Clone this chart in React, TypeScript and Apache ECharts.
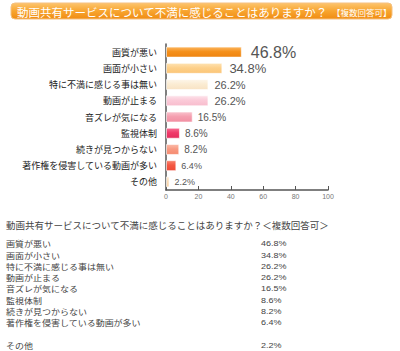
import React, { useEffect, useRef } from "react";
import * as echarts from "echarts";

const TITLE_MAIN = "動画共有サービスについて不満に感じることはありますか？";
const TITLE_SUB = "【複数回答可】";
const TABLE_TITLE = "動画共有サービスについて不満に感じることはありますか？＜複数回答可＞";

const categories = [
  "画質が悪い",
  "画面が小さい",
  "特に不満に感じる事は無い",
  "動画が止まる",
  "音ズレが気になる",
  "監視体制",
  "続きが見つからない",
  "著作権を侵害している動画が多い",
  "その他",
];
const values = [46.8, 34.8, 26.2, 26.2, 16.5, 8.6, 8.2, 6.4, 2.2];
const xTicks = [0, 20, 40, 60, 80, 100];

// styles
const barColors = [
  ["#fbb55e", "#f5901a", "#ee8410"],
  ["#fee2b2", "#fdd08a", "#fbc577"],
  ["#fdf6ea", "#fbecd3", "#f8e3c4"],
  ["#fde3ea", "#fbcad8", "#f8bccd"],
  ["#f9c2cc", "#f59fb0", "#f18fa2"],
  ["#f66d92", "#f03a6a", "#e52c5c"],
  ["#fbbcaa", "#f89a82", "#f58a70"],
  ["#f8846f", "#f45842", "#ee4a36"],
  ["#fde9d2", "#fbdbb4", "#f8d1a4"],
];
const labelSizes = [16, 13, 11, 11, 10, 10, 10, 9, 9];
const labelOffsets = [9, 7, 6, 6, 5, 5, 5, 5, 5];

const ROW_H = 11.3;
const SQUASH = 0.85;

export default function App() {
  const ref = useRef<HTMLDivElement>(null);
  useEffect(() => {
    document.body.style.margin = "0";
    if (!ref.current) return;
    const chart = echarts.init(ref.current, undefined, { renderer: "svg" });
    const jp = "'Noto Sans CJK JP', sans-serif";
    const sans = "'Liberation Sans', Arial, sans-serif";

    const lastIdx = categories.length - 1;
    const labelLines: string[] = [];
    const valueLines: string[] = [];
    categories.forEach((c, i) => {
      if (i === lastIdx) {
        labelLines.push("");
        valueLines.push("");
      }
      labelLines.push(c);
      valueLines.push(values[i].toFixed(1) + "%");
    });

    const tableGraphics: any[] = [
      {
        type: "text",
        x: 6,
        y: 225,
        style: {
          text: TABLE_TITLE,
          fontSize: 9.5,
          lineHeight: 10,
          fontFamily: jp,
          fill: "#444",
          verticalAlign: "middle",
        },
      },
      {
        type: "text",
        x: 6,
        y: 237.9,
        scaleY: SQUASH,
        style: {
          text: labelLines.join("\n"),
          fontSize: 9,
          lineHeight: ROW_H / SQUASH,
          fontFamily: jp,
          fill: "#444",
          verticalAlign: "top",
        },
      },
      {
        type: "text",
        x: 261,
        y: 237.9,
        scaleY: SQUASH,
        style: {
          text: valueLines.join("\n"),
          fontSize: 9,
          lineHeight: ROW_H / SQUASH,
          fontFamily: sans,
          fill: "#444",
          verticalAlign: "top",
        },
      },
    ];

    chart.setOption({
      animation: false,
      backgroundColor: "#ffffff",
      grid: { left: 166, right: 72, top: 44, bottom: 161 },
      xAxis: {
        type: "value",
        min: xTicks[0],
        max: xTicks[xTicks.length - 1],
        interval: 20,
        axisLine: { show: true, lineStyle: { color: "#555", width: 1.5 } },
        axisTick: { show: true, inside: true, length: 4, lineStyle: { color: "#555" } },
        splitLine: { show: false },
        axisLabel: { fontSize: 7, color: "#777", margin: 3, fontFamily: sans },
      },
      yAxis: {
        type: "category",
        inverse: true,
        data: categories,
        axisLine: { show: true, lineStyle: { color: "#555", width: 1.5 } },
        axisTick: { show: false },
        axisLabel: { fontSize: 9, lineHeight: 10, color: "#222", margin: 9, fontFamily: jp },
      },
      series: [
        {
          type: "bar",
          barWidth: 11,
          data: values.map((v, i) => ({
            value: v,
            itemStyle: {
              color: new echarts.graphic.LinearGradient(0, 0, 0, 1, [
                { offset: 0, color: barColors[i][0] },
                { offset: 0.45, color: barColors[i][1] },
                { offset: 1, color: barColors[i][2] },
              ]),
              borderColor: "rgba(255,255,255,0.6)",
              borderWidth: 1,
            },
            label: {
              show: true,
              position: "right",
              distance: labelOffsets[i],
              formatter: (p: any) => Number(p.value).toFixed(1) + "%",
              fontSize: labelSizes[i],
              color: "#555",
              fontFamily: sans,
            },
          })),
        },
      ],
      graphic: [
        {
          type: "rect",
          shape: { x: 11, y: 3, width: 381, height: 16, r: 4 },
          style: {
            fill: new echarts.graphic.LinearGradient(0, 0, 0, 1, [
              { offset: 0, color: "#fcc56e" },
              { offset: 0.5, color: "#f8a530" },
              { offset: 1, color: "#f08c12" },
            ]),
            stroke: "#f5c080",
            lineWidth: 1,
          },
        },
        {
          type: "text",
          x: 17,
          y: 11.5,
          style: {
            text: TITLE_MAIN,
            fontSize: 11.5,
            fontFamily: jp,
            fill: "#ffffff",
            verticalAlign: "middle",
          },
        },
        {
          type: "text",
          x: 332,
          y: 11.5,
          style: {
            text: TITLE_SUB,
            fontSize: 8.5,
            fontFamily: jp,
            fill: "#ffffff",
            verticalAlign: "middle",
          },
        },
        ...tableGraphics,
      ],
    });
    return () => chart.dispose();
  }, []);
  return (
    <div
      ref={ref}
      style={{ position: "fixed", left: 0, top: 0, width: 400, height: 351, background: "#fff" }}
    />
  );
}
